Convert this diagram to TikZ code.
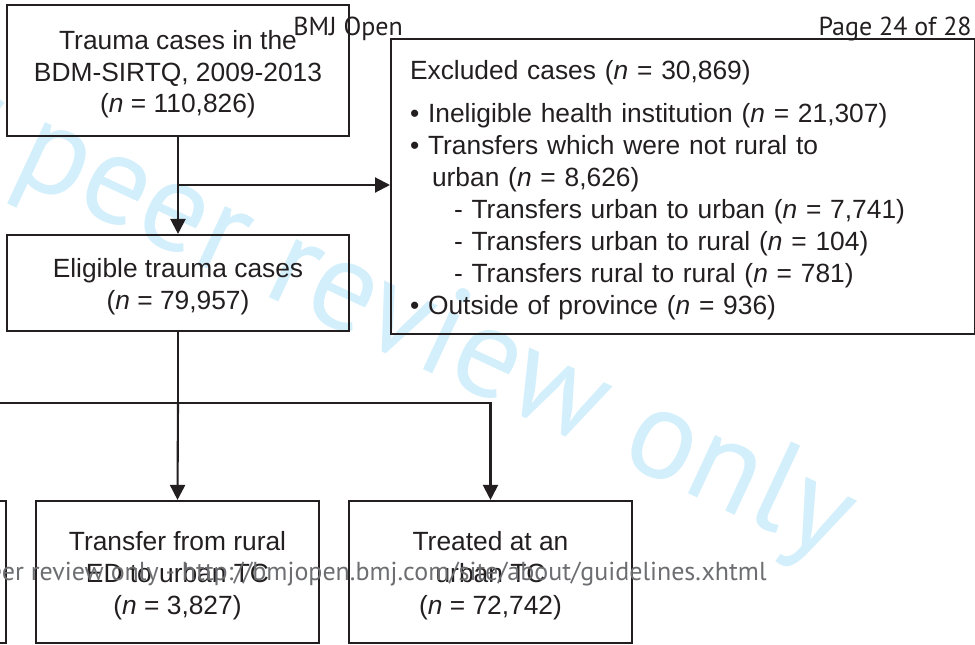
\documentclass[tikz,border=0pt]{standalone}
\usepackage{fontspec}
\setmainfont{Liberation Sans}
\newfontfamily\myriad{PT Sans}
\usepackage{tikz}
\usetikzlibrary{
    arrows.meta,
    calc,
    positioning
}
\definecolor{ink}{HTML}{231F20}
\definecolor{wmblue}{HTML}{D3EFFB}
\definecolor{footgray}{HTML}{6D6E71}
\newcommand{\topgap}{\rule{0pt}{0.53cm}}
\tikzset{
    flowbox/.style={draw=ink, line width=1.2pt, text=ink, align=center, inner sep=0pt,
        font=\fontsize{15}{18.2}\selectfont},
    flowline/.style={draw=ink, line width=1.2pt},
    flowarrow/.style={flowline, -{Triangle[length=0.3cm, width=0.3cm]}},
    pagetext/.style={inner sep=0pt, font=\myriad\fontsize{14.8}{16}\selectfont}
}

\begin{document}
\begin{tikzpicture}[x=0.02cm, y=-0.02cm]
                                \useasboundingbox (0, 0) rectangle (975, 645);
                                \clip (0, 0) rectangle (975, 645);
                                \node[rotate=-25, anchor=base east, inner sep=0pt, text=wmblue,
                                    font=\myriad\fontsize{73}{73}\selectfont] (mark) at (832, 560) {For peer review only};
                                \node[flowbox, minimum width=6.84cm, minimum height=2.62cm] (trauma) at (178, 70.5)
                                    {\topgap Trauma cases in the\\BDM-SIRTQ, 2009-2013\\(\textit{n} = 110,826)};
                                \node[flowbox, minimum width=6.84cm, minimum height=1.92cm] (eligible) at (178, 283)
                                    {\topgap Eligible trauma cases\\(\textit{n} = 79,957)};
                                \node[flowbox, anchor=north west, align=left, minimum width=11.68cm, minimum height=5.9cm,
                                    text width=10.92cm, inner xsep=0.38cm] (excluded) at (390, 38)
                                    {\topgap Excluded cases (\textit{n} = 30,869)\\[0.22cm]
                                    • Ineligible health institution (\textit{n} = 21,307)\\
                                    • Transfers which were not rural to\\
                                    \hspace*{0.44cm}urban (\textit{n} = 8,626)\\
                                    \hspace*{0.88cm}- Transfers urban to urban (\textit{n} = 7,741)\\
                                    \hspace*{0.88cm}- Transfers urban to rural (\textit{n} = 104)\\
                                    \hspace*{0.88cm}- Transfers rural to rural (\textit{n} = 781)\\
                                    • Outside of province (\textit{n} = 936)};
                                \node[flowbox, anchor=east, minimum width=5.66cm, minimum height=2.84cm] (rural) at (7, 572) {};
                                \node[flowbox, minimum width=5.66cm, minimum height=2.84cm] (transfer) at (177.5, 572)
                                    {\topgap Transfer from rural\\ED to urban TC\\(\textit{n} = 3,827)};
                                \node[flowbox, minimum width=5.66cm, minimum height=2.84cm] (treated) at (490.5, 572)
                                    {\topgap Treated at an\\urban TC\\(\textit{n} = 72,742)};
                                \coordinate (split) at (178, 185);
                                \coordinate (fork) at (178, 403);
                                \draw[flowarrow] (trauma.south) -- (eligible.north);
                                \draw[flowarrow] (split) -- (split -| excluded.west);
                                \draw[flowline] (eligible.south) -- (fork);
                                \draw[flowarrow] (fork) -- (transfer.north);
                                \draw[flowarrow] (fork) -| (treated.north);
                                \draw[flowarrow] (fork) -| (rural.north);
                                \node[pagetext, anchor=base west, text=ink] (journal) at (293, 36) {BMJ Open};
                                \node[pagetext, anchor=base east, text=ink] (page) at (972, 36) {Page 24 of 28};
                                \node[pagetext, anchor=base east, text=footgray] (footer) at (767, 581)
                                    {For peer review only - http://bmjopen.bmj.com/site/about/guidelines.xhtml};
                            \end{tikzpicture}
\end{document}
